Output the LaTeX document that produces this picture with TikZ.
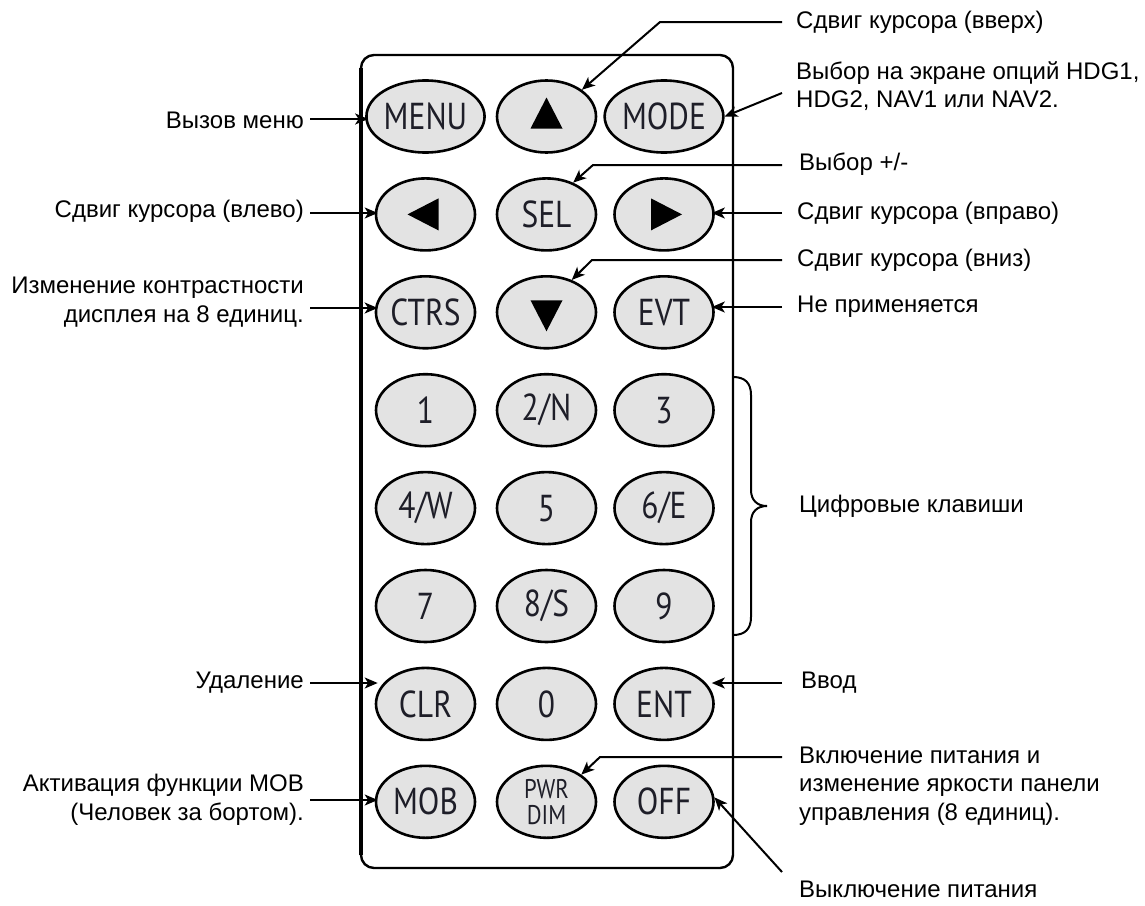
\documentclass[tikz,border=0pt]{standalone}
\usepackage{fontspec}
\setmainfont{Liberation Sans}
\newfontfamily\keyfont{PT Sans}[FakeStretch=0.84]
\usetikzlibrary{shapes.geometric,arrows.meta,calc}
\definecolor{keygray}{HTML}{E3E3E3}
\definecolor{keytext}{HTML}{1E1E28}
\begin{document}
\begin{tikzpicture}[x=1pt,y=-1pt,
  lbl/.style={inner sep=0pt, font=\fontsize{24}{28.5}\selectfont},
  key/.style={ellipse, draw=black, line width=2.6pt, fill=keygray,
    minimum width=99pt, minimum height=72pt, inner sep=0pt,
    font=\keyfont\fontsize{37.5}{37.5}\selectfont, text=keytext},
  arr/.style={line width=2pt, -{Stealth[length=13pt,width=11pt,inset=3.5pt]}},
  tri/.style={fill=black}]
\useasboundingbox (0,0) rectangle (1145,905);

% frame
\draw[line width=2.4pt, rounded corners=13pt] (361,55) rectangle (733,868);
\draw[line width=3.4pt] (361,68) -- (361,855);

% keys
\node[key] (menu)  at (425.5,116.5) {MENU};
\node[key] (up)    at (546.5,116.5) {};
\node[key] (mode)  at (664,116.5)   {MODE};
\node[key] (left)  at (425.5,214.4) {};
\node[key] (sel)   at (546.5,214.4) {SEL};
\node[key] (right) at (664,214.4)   {};
\node[key] (ctrs)  at (425.5,312.3) {CTRS};
\node[key] (down)  at (546.5,312.3) {};
\node[key] (evt)   at (664,312.3)   {EVT};
\node[key] (k1)    at (425.5,410.2) {1};
\node[key] (k2)    at (546.5,410.2) {2/N};
\node[key] (k3)    at (664,410.2)   {3};
\node[key] (k4)    at (425.5,508.1) {4/W};
\node[key] (k5)    at (546.5,508.1) {5};
\node[key] (k6)    at (664,508.1)   {6/E};
\node[key] (k7)    at (425.5,606.0) {7};
\node[key] (k8)    at (546.5,606.0) {8/S};
\node[key] (k9)    at (664,606.0)   {9};
\node[key] (clr)   at (425.5,703.9) {CLR};
\node[key] (k0)    at (546.5,703.9) {0};
\node[key] (ent)   at (664,703.9)   {ENT};
\node[key] (mob)   at (425.5,801.8) {MOB};
\node[key, align=center, font=\keyfont\fontsize{27}{26}\selectfont] (pwr) at (546.5,801.8) {PWR\\DIM};
\node[key] (off)   at (664,801.8)   {OFF};

% triangles
\fill[tri] ($(up)+(-16,12)$) -- ($(up)+(16,12)$) -- ($(up)+(0,-19)$) -- cycle;
\fill[tri] ($(down)+(-16,-12)$) -- ($(down)+(16,-12)$) -- ($(down)+(0,19)$) -- cycle;
\fill[tri] ($(left)+(-18,0)$) -- ($(left)+(13,-16)$) -- ($(left)+(13,16)$) -- cycle;
\fill[tri] ($(right)+(18,0)$) -- ($(right)+(-13,-16)$) -- ($(right)+(-13,16)$) -- cycle;

% brace
\draw[line width=2pt] (733,377) .. controls (745,377) and (751,383) .. (751,395)
  -- (751,490) .. controls (751,500) and (757,506) .. (767,506)
  .. controls (757,506) and (751,512) .. (751,522)
  -- (751,617) .. controls (751,629) and (745,635) .. (733,635);

% left labels
\node[lbl, anchor=east] (l-menu) at (304,120) {Вызов меню};
\node[lbl, anchor=east] (l-left) at (304,211) {Сдвиг курсора (влево)};
\node[lbl, anchor=east, align=right] (l-ctrs) at (304,302) {Изменение контрастности\\дисплея на 8 единиц.};
\node[lbl, anchor=east] (l-clr) at (304,683) {Удаление};
\node[lbl, anchor=east, align=right] (l-mob) at (304,800) {Активация функции MOB\\(Человек за бортом).};

% right labels
\node[lbl, anchor=west] (l-up) at (796,22) {Сдвиг курсора (вверх)};
\node[lbl, anchor=west, align=left] (l-mode) at (796,86) {Выбор на экране опций HDG1,\\HDG2, NAV1 или NAV2.};
\node[lbl, anchor=west] (l-sel) at (799,164) {Выбор +/-};
\node[lbl, anchor=west] (l-right) at (797,213) {Сдвиг курсора (вправо)};
\node[lbl, anchor=west] (l-down) at (797,260) {Сдвиг курсора (вниз)};
\node[lbl, anchor=west] (l-evt) at (797,307) {Не применяется};
\node[lbl, anchor=west] (l-num) at (799,506) {Цифровые клавиши};
\node[lbl, anchor=west] (l-ent) at (801,683) {Ввод};
\node[lbl, anchor=west, align=left] (l-pwr) at (799,786) {Включение питания и\\изменение яркости панели\\управления (8 единиц).};
\node[lbl, anchor=west] (l-off) at (799,889) {Выключение питания};

% connector start points
\coordinate (s-menu) at (310,119);
\coordinate (s-left) at (310,213);
\coordinate (s-ctrs) at (310,308);
\coordinate (s-clr)  at (310,683);
\coordinate (s-mob)  at (310,800);
\coordinate (s-up)   at (782,22);
\coordinate (b-up)   at (660,22);
\coordinate (s-mode) at (782,93);
\coordinate (s-sel)  at (782,165);
\coordinate (b-sel)  at (593,165);
\coordinate (s-right) at (782,213);
\coordinate (s-down) at (782,260);
\coordinate (b-down) at (592,260);
\coordinate (s-evt)  at (782,307);
\coordinate (s-ent)  at (782,683);
\coordinate (s-pwr)  at (782,757);
\coordinate (b-pwr)  at (600,757);
\coordinate (s-off)  at (782,872);

% connectors
\draw[arr, shorten >=-3pt] (s-menu) -- (s-menu -| menu.west);
\draw[arr, shorten >=-3pt] (s-left) -- (s-left -| left.west);
\draw[arr, shorten >=-3pt] (s-ctrs) -- (s-ctrs -| ctrs.west);
\draw[arr, shorten >=-3pt] (s-clr) -- (s-clr -| clr.west);
\draw[arr, shorten >=-3pt] (s-mob) -- (s-mob -| mob.west);
\draw[arr] (s-up) -- (b-up) -- (up.37);
\draw[arr] (s-mode) -- (mode.east);
\draw[arr] (s-sel) -- (b-sel) -- (sel.50);
\draw[arr, shorten >=-3pt] (s-right) -- (s-right -| right.east);
\draw[arr] (s-down) -- (b-down) -- (down.52);
\draw[arr, shorten >=-3pt] (s-evt) -- (s-evt -| evt.east);
\draw[arr, shorten >=-3pt] (s-ent) -- (s-ent -| ent.east);
\draw[arr] (s-pwr) -- (b-pwr) -- (pwr.38);
\draw[arr] (s-off) -- (off.5);
\end{tikzpicture}
\end{document}
